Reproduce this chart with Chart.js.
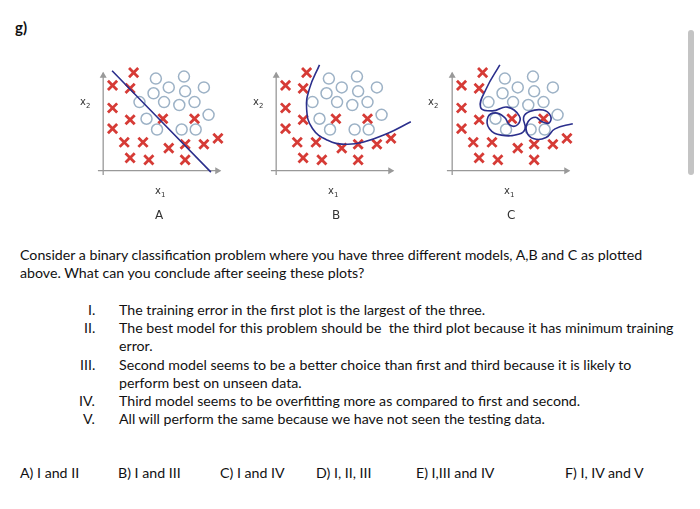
<!DOCTYPE html>
<html><head><meta charset="utf-8">
<script src="https://cdn.jsdelivr.net/npm/chart.js@4"></script>
<style>
body{margin:0;width:700px;height:509px;background:#fff;font-family:Lato,"Open Sans",sans-serif;color:#111;position:relative;overflow:hidden}
.c{position:absolute}
.t{position:absolute;white-space:nowrap;font-size:14.2px}
.s{position:absolute;font-size:10px;color:#333;font-family:"DejaVu Sans",sans-serif}
</style></head><body>
<div class="t" style="left:15px;top:18px;font-weight:bold;font-size:15px">g)</div>
<div style="position:absolute;left:688px;top:30px;width:6px;height:145px;border-radius:3px;background:#c4c4c4"></div>
<canvas id="cA" class="c" width="175" height="140" style="left:76px;top:53px"></canvas>
<canvas id="cB" class="c" width="175" height="140" style="left:249px;top:53px"></canvas>
<canvas id="cC" class="c" width="175" height="140" style="left:425px;top:53px"></canvas>
<div class="s" style="left:155px;top:185px">x<sub style="font-size:7px">1</sub></div>
<div class="s" style="left:328px;top:185px">x<sub style="font-size:7px">1</sub></div>
<div class="s" style="left:504px;top:185px">x<sub style="font-size:7px">1</sub></div>
<div class="s" style="left:80px;top:96px">x<sub style="font-size:7px">2</sub></div>
<div class="s" style="left:253px;top:96px">x<sub style="font-size:7px">2</sub></div>
<div class="s" style="left:428px;top:96px">x<sub style="font-size:7px">2</sub></div>
<div class="s" style="left:155px;top:208px;font-size:12px">A</div>
<div class="s" style="left:332px;top:208px;font-size:12px">B</div>
<div class="s" style="left:507px;top:208px;font-size:12px">C</div>
<div class="t" style="left:20px;top:246px">Consider a binary classification problem where you have three different models, A,B and C as plotted</div>
<div class="t" style="left:20px;top:264px">above. What can you conclude after seeing these plots?</div>
<div class="t" style="left:88px;top:301px">I.</div><div class="t" style="left:119px;top:301px">The training error in the first plot is the largest of the three.</div>
<div class="t" style="left:84px;top:319px">II.</div><div class="t" style="left:119px;top:319px">The best model for this problem should be&nbsp; the third plot because it has minimum training</div>
<div class="t" style="left:119px;top:337px">error.</div>
<div class="t" style="left:80px;top:356px">III.</div><div class="t" style="left:119px;top:356px">Second model seems to be a better choice than first and third because it is likely to</div>
<div class="t" style="left:119px;top:374px">perform best on unseen data.</div>
<div class="t" style="left:79px;top:392px">IV.</div><div class="t" style="left:119px;top:392px">Third model seems to be overfitting more as compared to first and second.</div>
<div class="t" style="left:83px;top:410px">V.</div><div class="t" style="left:119px;top:410px">All will perform the same because we have not seen the testing data.</div>
<div class="t" style="left:20px;top:464px">A) I and II</div>
<div class="t" style="left:118px;top:464px">B) I and III</div>
<div class="t" style="left:220px;top:464px">C) I and IV</div>
<div class="t" style="left:316px;top:464px">D) I, II, III</div>
<div class="t" style="left:416px;top:464px">E) I,III and IV</div>
<div class="t" style="left:565px;top:464px">F) I, IV and V</div>
<script>
const crossX=[2.6,0.8,2.3,0.8,2.3,5.1,7.8,0.8,1.8,3.4,5.6,7.0,8.6,9.8,2.3,3.9,7.0];
const crossY=[10.0,8.7,8.4,6.4,5.2,5.3,5.3,4.3,2.9,2.9,2.3,2.7,2.7,3.3,1.3,1.1,1.1];
const circX=[4.5,6.9,4.3,5.6,7.0,8.6,3.1,5.2,6.5,7.8,9.0,3.7,4.6,6.7,7.9];
const circY=[9.4,9.6,7.9,8.5,8.1,8.5,7.0,7.0,6.7,7.0,5.7,5.3,4.2,4.2,4.2];
const bndAX=[0.76,9.2];
const bndAY=[10.2,-0.15];
const bndBX=[3.7,2.85,2.6,3.1,4.4,5.9,7.4,9.5,11.5];
const bndBY=[10.8,8.4,6.3,4.3,3.1,2.7,2.9,3.8,5.0];
const bndCX=[4.07,2.93,2.42,3.44,4.71,5.73,5.6,4.96,4.45,3.69,3.05,3.18,4.2,5.73,6.23,6.1,6.62,7.76,8.4,8.27,7.63,7.12,6.49,6.36,7.0,8.02,8.78,10.3];
const bndCY=[10.8,8.41,6.49,6.1,6.49,5.6,4.72,4.63,5.46,5.9,5.46,4.28,3.63,3.75,4.28,5.46,6.05,6.19,5.6,4.87,5.02,5.46,5.02,3.98,3.25,3.39,4.27,4.8];
const pts=(xs,ys)=>xs.map((x,i)=>({x,y:ys[i]}));
const axesPlugin={id:'ax',beforeDatasetsDraw(ch){const c=ch.ctx,x=ch.scales.x,y=ch.scales.y;
 c.save();c.strokeStyle='#999';c.fillStyle='#999';c.lineWidth=1.3;
 const ox=x.getPixelForValue(0),oy=y.getPixelForValue(0),ex=x.getPixelForValue(10),ey=y.getPixelForValue(10);
 c.beginPath();c.moveTo(x.getPixelForValue(-0.45),oy);c.lineTo(ex,oy);c.moveTo(ox,y.getPixelForValue(-0.45));c.lineTo(ox,ey);c.stroke();
 c.beginPath();c.moveTo(ex+1,oy);c.lineTo(ex-5,oy-3.5);c.lineTo(ex-5,oy+3.5);c.fill();
 c.beginPath();c.moveTo(ox,ey-1);c.lineTo(ox-3.5,ey+5);c.lineTo(ox+3.5,ey+5);c.fill();
 c.restore();}};
function make(id,bx,by){
 new Chart(document.getElementById(id),{type:'scatter',
  data:{datasets:[
   {data:pts(bx,by),showLine:true,tension:0.45,borderColor:'#2b2f8c',borderWidth:1.6,pointRadius:0,fill:false},
   {data:pts(crossX,crossY),pointStyle:'crossRot',pointRadius:6.5,borderColor:'#d63b36',borderWidth:2.8},
   {data:pts(circX,circY),pointStyle:'circle',pointRadius:5.5,borderColor:'#9db2c6',backgroundColor:'rgba(0,0,0,0)',borderWidth:1.5}]},
  options:{responsive:false,animation:false,layout:{padding:0},
   plugins:{legend:{display:false},tooltip:{enabled:false}},
   scales:{x:{display:false,min:-1.527,max:11.83},y:{display:false,min:-1.327,max:11.06}}},
  plugins:[axesPlugin]});
}
make('cA',bndAX,bndAY);make('cB',bndBX,bndBY);make('cC',bndCX,bndCY);
</script></body></html>
